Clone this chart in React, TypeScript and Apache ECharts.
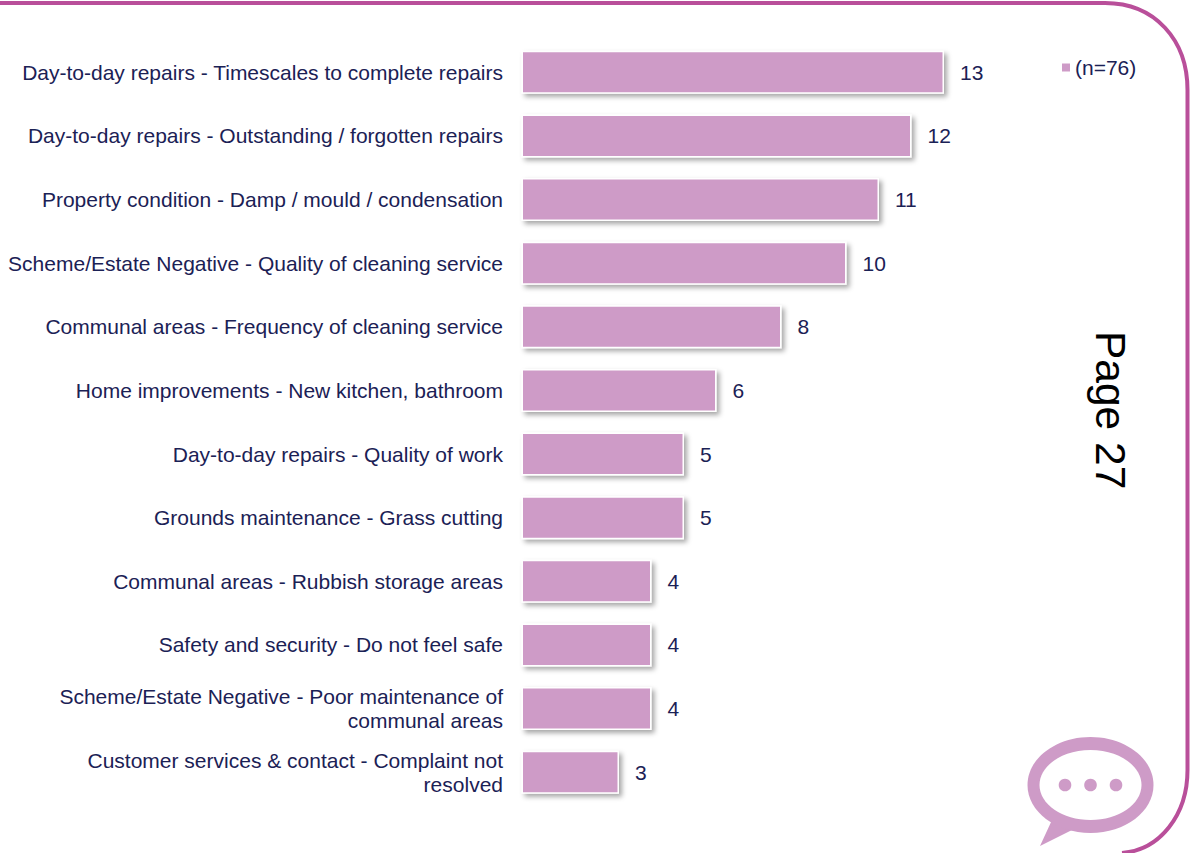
import React, { useEffect, useRef } from "react";
import * as echarts from "echarts";

const categories = [
  "Day-to-day repairs - Timescales to complete repairs",
  "Day-to-day repairs - Outstanding / forgotten repairs",
  "Property condition - Damp / mould / condensation",
  "Scheme/Estate Negative - Quality of cleaning service",
  "Communal areas - Frequency of cleaning service",
  "Home improvements - New kitchen, bathroom",
  "Day-to-day repairs - Quality of work",
  "Grounds maintenance - Grass cutting",
  "Communal areas - Rubbish storage areas",
  "Safety and security - Do not feel safe",
  "Scheme/Estate Negative - Poor maintenance of\ncommunal areas",
  "Customer services & contact - Complaint not\nresolved",
];
const values = [13, 12, 11, 10, 8, 6, 5, 5, 4, 4, 4, 3];
const seriesName = "(n=76)";
const pageLabel = "Page 27";

const NAVY = "#1B2155";
const BAR = "#CE9BC7";
const FRAME = "#B94F9A";
const FONT = '"Liberation Sans", Arial, sans-serif';

echarts.graphic.registerShape(
  "frameLine",
  echarts.graphic.extendPath(
    "M-6 3 L1105 3 C1155 3 1187.5 40 1187.5 90 L1187.5 770 C1187.5 815 1160 850 1122 853",
    {}
  )
);
echarts.graphic.registerShape(
  "bubbleTail",
  echarts.graphic.extendPath("M1052 820 L1040 846 L1072 830 Z", {})
);

export default function App() {
  const ref = useRef<HTMLDivElement>(null);
  useEffect(() => {
    const chart = echarts.init(ref.current!, undefined, { renderer: "svg" });
    chart.setOption({
      animation: false,
      backgroundColor: "#FFFFFF",
      textStyle: { fontFamily: FONT },
      grid: { left: 521.5, top: 40.5, width: 455, height: 763.5, containLabel: false },
      legend: {
        data: [seriesName],
        left: 1057,
        top: 52,
        icon: "rect",
        itemWidth: 8,
        itemHeight: 8,
        itemGap: 7.5,
        itemStyle: { borderWidth: 0, shadowBlur: 0, shadowOffsetX: 0, shadowOffsetY: 0 },
        textStyle: { color: NAVY, fontSize: 21, fontFamily: FONT },
      },
      xAxis: { type: "value", min: 0, max: 14, show: false },
      yAxis: {
        type: "category",
        inverse: true,
        data: categories,
        axisLine: { show: false },
        axisTick: { show: false },
        axisLabel: {
          color: NAVY,
          fontSize: 21,
          fontFamily: FONT,
          margin: 18.5,
          lineHeight: 24,
          align: "right",
          interval: 0,
          padding: [0, 0, 2, 0],
        },
      },
      series: [
        {
          name: seriesName,
          type: "bar",
          data: values,
          barWidth: 43,
          itemStyle: {
            color: BAR,
            borderColor: "#FFFFFF",
            borderWidth: 1.5,
            shadowColor: "rgba(0,0,0,0.35)",
            shadowBlur: 5,
            shadowOffsetX: 3,
            shadowOffsetY: 3,
          },
          label: {
            show: true,
            position: "right",
            distance: 16,
            color: NAVY,
            fontSize: 21,
            fontFamily: FONT,
          },
        },
      ],
      graphic: [
        { type: "frameLine", silent: true, style: { fill: "none", stroke: FRAME, lineWidth: 4 } },
        { type: "bubbleTail", silent: true, style: { fill: BAR } },
        { type: "ellipse", silent: true, shape: { cx: 1090.5, cy: 785, rx: 63, ry: 48 }, style: { fill: BAR } },
        { type: "ellipse", silent: true, shape: { cx: 1090.5, cy: 785, rx: 51, ry: 35 }, style: { fill: "#FFFFFF" } },
        { type: "circle", silent: true, shape: { cx: 1065, cy: 785, r: 6.3 }, style: { fill: BAR } },
        { type: "circle", silent: true, shape: { cx: 1090.5, cy: 785, r: 6.3 }, style: { fill: BAR } },
        { type: "circle", silent: true, shape: { cx: 1116, cy: 785, r: 6.3 }, style: { fill: BAR } },
        {
          type: "text",
          silent: true,
          x: 1110,
          y: 331,
          rotation: -Math.PI / 2,
          style: {
            text: pageLabel,
            fill: "#000000",
            fontSize: 42.5,
            fontFamily: FONT,
            align: "left",
            verticalAlign: "middle",
          },
        },
      ],
    });
    return () => chart.dispose();
  }, []);
  return <div ref={ref} style={{ position: "absolute", left: 0, top: 0, width: 1192, height: 853 }} />;
}
